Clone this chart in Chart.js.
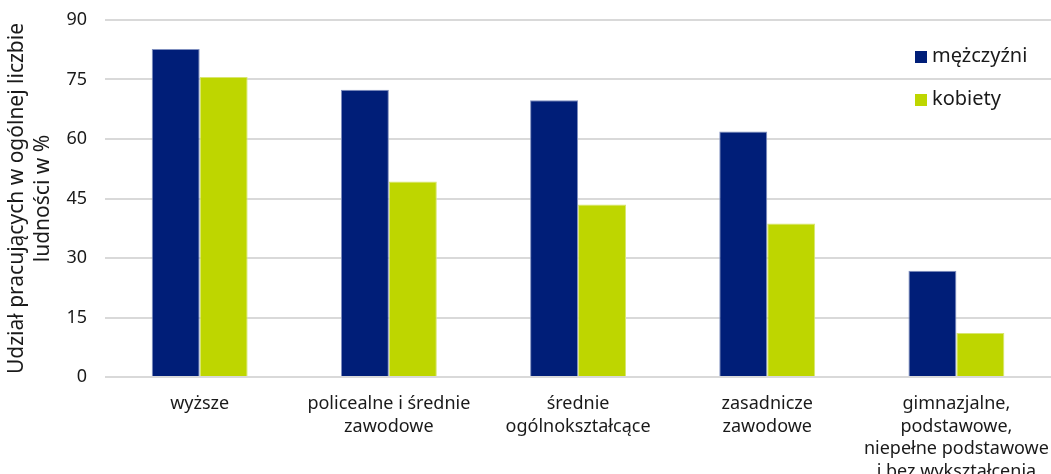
<!DOCTYPE html>
<html>
<head>
<meta charset="utf-8">
<script src="https://cdn.jsdelivr.net/npm/chart.js@4/dist/chart.umd.min.js"></script>
<style>
    html, body { margin: 0; padding: 0; background: #fff; }
    #wrap { width: 1051px; height: 474px; }
</style>
</head>
<body>
<div id="wrap"><canvas id="wykres"></canvas></div>
<script>
const kategorie = [
    ['wyższe'],
    ['policealne i średnie', 'zawodowe'],
    ['średnie', 'ogólnokształcące'],
    ['zasadnicze', 'zawodowe'],
    ['gimnazjalne,', 'podstawowe,', 'niepełne podstawowe', 'i bez wykształcenia']
];
const mezczyzni = [82.7, 72.4, 69.8, 61.9, 26.8];
const kobiety = [75.6, 49.3, 43.5, 38.7, 11.1];
const osY = [0, 15, 30, 45, 60, 75, 90];

const czcionka = "'Noto Sans', 'Open Sans', sans-serif";

// legenda rysowana w prawym górnym rogu, bez tła
const legendaPlugin = {
    id: 'legendaWRogu',
    afterDraw(chart) {
        const ctx = chart.ctx;
        ctx.save();
        ctx.font = '20px ' + czcionka;
        ctx.textBaseline = 'middle';
        chart.data.datasets.forEach((ds, i) => {
            const y = 57 + i * 43;
            ctx.fillStyle = ds.backgroundColor;
            ctx.fillRect(915, y - 6, 12, 12);
            ctx.fillStyle = '#1a1a1a';
            ctx.fillText(ds.label, 932, y - 1);
        });
        ctx.restore();
    }
};

new Chart(document.getElementById('wykres'), {
    type: 'bar',
    data: {
        labels: kategorie,
        datasets: [{
            label: 'mężczyźni',
            data: mezczyzni,
            backgroundColor: '#001E78',
            borderColor: '#7f8fbf',
            borderWidth: 1
        }, {
            label: 'kobiety',
            data: kobiety,
            backgroundColor: '#BED600',
            borderColor: '#d8e66f',
            borderWidth: 1
        }]
    },
    options: {
        responsive: true,
        maintainAspectRatio: false,
        animation: false,
        layout: { padding: { top: 20, right: -7, bottom: -17, left: 4 } },
        categoryPercentage: 0.507,
        barPercentage: 1,
        plugins: {
            legend: { display: false },
            tooltip: { enabled: false }
        },
        scales: {
            x: {
                grid: { display: false },
                border: { display: false },
                afterFit(axis) {
                    axis.paddingLeft = 0;
                    axis.paddingRight = 0;
                },
                ticks: {
                    color: '#1a1a1a',
                    font: { family: czcionka, size: 18, lineHeight: 1.25 },
                    padding: 8,
                    maxRotation: 0,
                    autoSkip: false
                }
            },
            y: {
                min: 0,
                max: 90,
                afterBuildTicks(axis) {
                    axis.ticks = osY.map(v => ({ value: v }));
                },
                afterFit(axis) {
                    axis.paddingTop = 0;
                    axis.paddingBottom = 0;
                },
                grid: { color: '#d9d9d9', lineWidth: 2, drawTicks: false },
                border: { display: false },
                ticks: {
                    color: '#1a1a1a',
                    font: { family: czcionka, size: 18 },
                    padding: 18
                },
                title: {
                    display: true,
                    text: ['Udział pracujących w ogólnej liczbie', 'ludności w %'],
                    color: '#1a1a1a',
                    font: { family: czcionka, size: 21, lineHeight: 1.25 },
                    padding: { top: 0, bottom: -8 }
                }
            }
        }
    },
    plugins: [legendaPlugin]
});
</script>
</body>
</html>
